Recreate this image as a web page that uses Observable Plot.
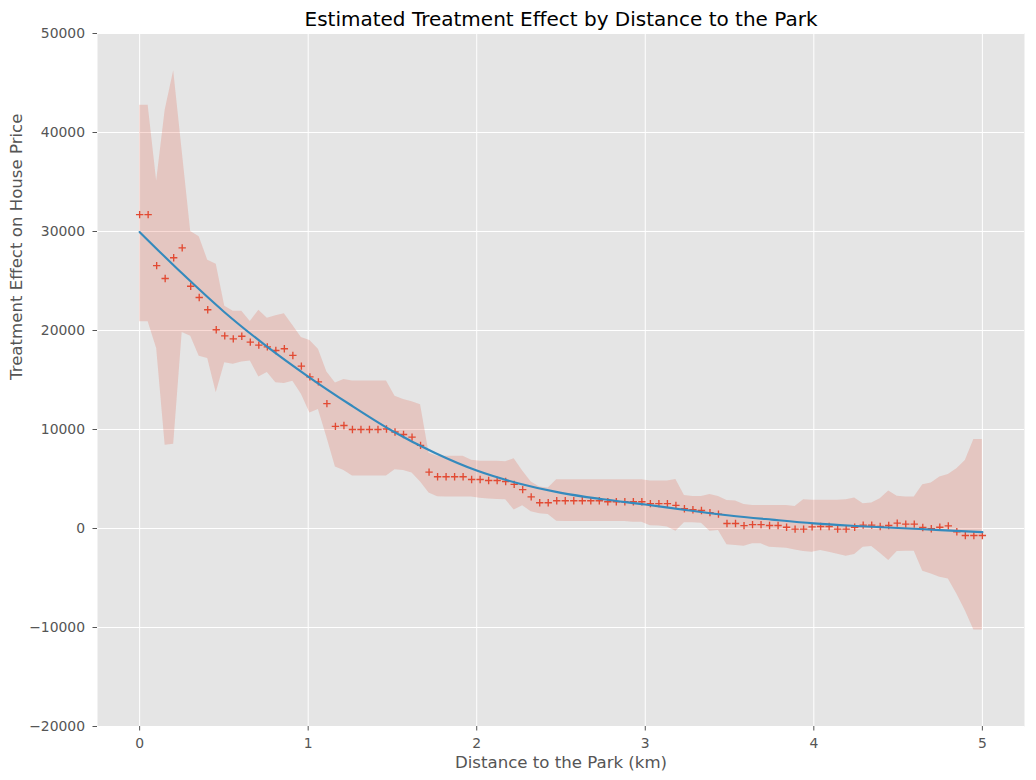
<!DOCTYPE html>
<html>
<head>
<meta charset="utf-8">
<script src="https://cdn.jsdelivr.net/npm/d3@7"></script>
<script src="https://cdn.jsdelivr.net/npm/@observablehq/plot@0.6"></script>
<style>
  html, body { margin: 0; padding: 0; background: white; }
  #chart { width: 1036px; height: 780px; }
</style>
</head>
<body>
<div id="chart"></div>
<script>
const title = "Estimated Treatment Effect by Distance to the Park";
const xLabel = "Distance to the Park (km)";
const yLabel = "Treatment Effect on House Price";

const xTicks = [0, 1, 2, 3, 4, 5];
const yTicks = [-20000, -10000, 0, 10000, 20000, 30000, 40000, 50000];

// distance grid (km), 100 evaluation points
const distance = [
  0, 0.0505, 0.101, 0.1515, 0.202, 0.2525, 0.303, 0.3535, 0.404, 0.4545,
  0.505, 0.5556, 0.6061, 0.6566, 0.7071, 0.7576, 0.8081, 0.8586, 0.9091, 0.9596,
  1.0101, 1.0606, 1.1111, 1.1616, 1.2121, 1.2626, 1.3131, 1.3636, 1.4141, 1.4646,
  1.5152, 1.5657, 1.6162, 1.6667, 1.7172, 1.7677, 1.8182, 1.8687, 1.9192, 1.9697,
  2.0202, 2.0707, 2.1212, 2.1717, 2.2222, 2.2727, 2.3232, 2.3737, 2.4242, 2.4747,
  2.5253, 2.5758, 2.6263, 2.6768, 2.7273, 2.7778, 2.8283, 2.8788, 2.9293, 2.9798,
  3.0303, 3.0808, 3.1313, 3.1818, 3.2323, 3.2828, 3.3333, 3.3838, 3.4343, 3.4848,
  3.5354, 3.5859, 3.6364, 3.6869, 3.7374, 3.7879, 3.8384, 3.8889, 3.9394, 3.9899,
  4.0404, 4.0909, 4.1414, 4.1919, 4.2424, 4.2929, 4.3434, 4.3939, 4.4444, 4.4949,
  4.5455, 4.596, 4.6465, 4.697, 4.7475, 4.798, 4.8485, 4.899, 4.9495, 5
];

// estimated treatment effect (+ markers)
const effect = [
  31700, 31700, 26550, 25250, 27350, 28350, 24470, 23330, 22100, 20080,
  19460, 19160, 19420, 18820, 18520, 18350, 17980, 18160, 17480, 16400,
  15310, 14810, 12620, 10320, 10400, 10000, 10000, 10000, 10000, 10050,
  9750, 9500, 9230, 8400, 5700, 5230, 5230, 5230, 5230, 4950,
  4950, 4850, 4850, 4750, 4460, 3920, 3200, 2600, 2600, 2800,
  2800, 2800, 2800, 2800, 2800, 2700, 2700, 2700, 2700, 2700,
  2520, 2520, 2520, 2330, 1990, 1890, 1820, 1600, 1450, 500,
  500, 290, 390, 390, 300, 300, 130, -60, -60, 170,
  200, 200, -70, -70, 130, 340, 340, 200, 300, 550,
  440, 440, 100, -30, 130, 270, -330, -710, -710, -710
];

// confidence interval upper bound
const upper = [
  42740, 42740, 35100, 42260, 46250, 38100, 29990, 29480, 27100, 26700,
  22450, 21950, 21950, 20900, 22050, 21250, 21500, 21700, 20500, 19300,
  19000, 18100, 15800, 14700, 15050, 14910, 14910, 14910, 14910, 14910,
  13370, 13030, 12800, 12500, 7600, 7290, 7290, 7290, 7290, 6900,
  6800, 6800, 6800, 6750, 7050, 5800, 4700, 4200, 4100, 4920,
  4920, 4920, 4920, 4920, 4920, 4920, 4920, 4920, 4920, 4920,
  4790, 4790, 4790, 4960, 3340, 3240, 3240, 3440, 3240, 2830,
  2770, 2430, 2330, 2330, 2330, 2330, 2330, 2230, 2900, 2850,
  2850, 2850, 2850, 2900, 3070, 2500, 2570, 3000, 3780, 3270,
  3170, 3170, 4420, 4590, 5190, 5460, 6040, 6880, 8980, 8980
];

// confidence interval lower bound
const lower = [
  20880, 20880, 18180, 8400, 8500, 19800, 19430, 17400, 17170, 13700,
  16730, 16600, 16830, 16930, 15310, 15750, 14710, 14640, 14870, 13560,
  11670, 12010, 9200, 6210, 5870, 5300, 5300, 5300, 5300, 5300,
  5940, 5870, 5600, 4690, 3580, 3200, 3170, 3170, 3170, 3170,
  3050, 2970, 2930, 2900, 1870, 2300, 1700, 1480, 1410, 740,
  700, 700, 700, 700, 700, 700, 700, 700, 640, 640,
  270, 240, 140, -270, 570, 570, 540, -270, -200, -1650,
  -1720, -1790, -1550, -1550, -1890, -1950, -1990, -2160, -2330, -2400,
  -2230, -2400, -2600, -2800, -2630, -1890, -1820, -2500, -3240, -2330,
  -2300, -2300, -4320, -4590, -4930, -5090, -6610, -8300, -10260, -10260
];

// smooth fitted curve (blue line)
const fitDistance = [0, 0.25, 0.5, 0.75, 1, 1.25, 1.5, 1.75, 2, 2.25, 2.5, 2.75, 3, 3.25, 3.5, 3.75, 4, 4.25, 4.5, 4.75, 5];
const fitEffect = [29950, 25800, 21900, 18450, 15350, 12500, 9850, 7650, 5850, 4550, 3600, 2950, 2420, 1850, 1320, 900, 520, 260, 50, -160, -370];

const rows = distance.map((d, i) => ({d, effect: effect[i], lo: lower[i], hi: upper[i]}));
const fit = fitDistance.map((d, i) => ({d, v: fitEffect[i]}));

const fmt = d3.format("d");

const chart = Plot.plot({
  width: 1036,
  height: 780,
  marginLeft: 97,
  marginRight: 12,
  marginTop: 33,
  marginBottom: 54,
  style: {fontFamily: "DejaVu Sans, sans-serif", fontSize: "13.9px", background: "white", color: "#555555"},
  x: {domain: [-0.25, 5.25]},
  y: {domain: [-20000, 50000]},
  marks: [
    Plot.frame({fill: "#E5E5E5", stroke: null}),
    Plot.gridX(xTicks, {stroke: "white", strokeOpacity: 1, strokeWidth: 1}),
    Plot.gridY(yTicks, {stroke: "white", strokeOpacity: 1, strokeWidth: 1}),
    Plot.areaY(rows, {x: "d", y1: "lo", y2: "hi", fill: "#E24A33", fillOpacity: 0.2}),
    Plot.dot(rows, {x: "d", y: "effect", symbol: "plus", r: 2.5, stroke: "#E24A33", strokeWidth: 1.35}),
    Plot.line(fit, {x: "d", y: "v", stroke: "#348ABD", strokeWidth: 2.1, curve: "monotone-x"}),
    Plot.axisX({ticks: xTicks, tickFormat: fmt, tickSize: 4.5, tickPadding: 7, label: null, stroke: "#555555", fill: "#555555"}),
    Plot.axisY({ticks: yTicks, tickFormat: fmt, tickSize: 4.5, tickPadding: 8, label: null, stroke: "#555555", fill: "#555555"}),
    Plot.text([xLabel], {frameAnchor: "bottom", lineAnchor: "middle", dy: 36, fontSize: 16.6, fill: "#555555"}),
    Plot.text([yLabel], {frameAnchor: "left", lineAnchor: "middle", dx: -81, rotate: -90, fontSize: 16.6, fill: "#555555"}),
    Plot.text([title], {frameAnchor: "top", lineAnchor: "middle", dy: -14, fontSize: 20, fill: "#000000"})
  ]
});
document.getElementById("chart").appendChild(chart);
</script>
</body>
</html>
